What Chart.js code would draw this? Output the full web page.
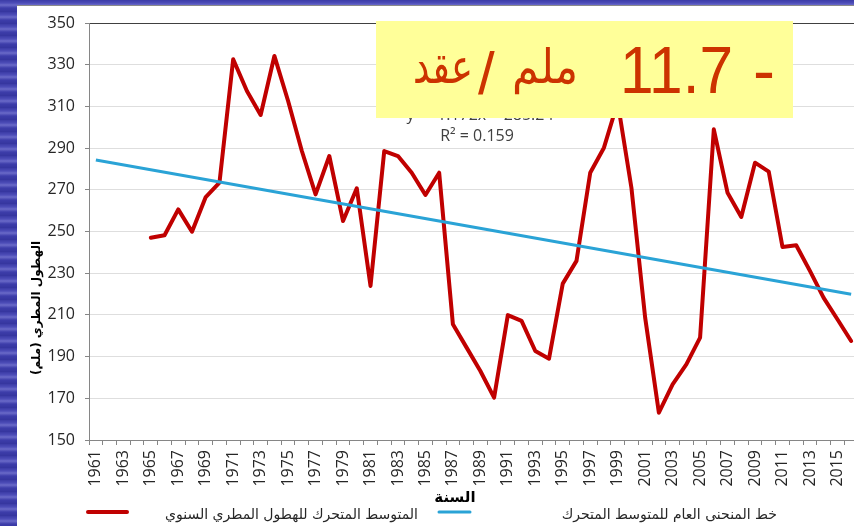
<!DOCTYPE html>
<html>
<head>
<meta charset="utf-8">
<script src="https://cdn.jsdelivr.net/npm/chart.js@4.4.1/dist/chart.umd.min.js"></script>
<style>
  html, body {
    margin: 0;
    padding: 0;
    width: 854px;
    height: 526px;
    overflow: hidden;
    background: repeating-linear-gradient(180deg, #3b3ba6 0px, #4d4db8 3px, #6a6ac8 5px, #3d3daa 8px, #35359e 12px);
  }
  #panel {
    position: absolute;
    left: 17px;
    top: 5px;
    width: 845px;
    height: 521px;
    background: #ffffff;
    border-top: 1px solid #8a8a8a;
    box-sizing: border-box;
  }
  #rainChart {
    position: absolute;
    left: 0;
    top: 0;
  }
</style>
</head>
<body>
<div id="panel">
  <canvas id="rainChart" width="845" height="521"></canvas>
</div>
<script>
// Years on the category axis
const years = [];
for (let y = 1961; y <= 2016; y++) years.push(String(y));

// Moving average of annual rainfall (mm), 1961-2016; no values before 1965
const rainfall = [
  null, null, null, null,
  247.0, 248.2, 260.6, 249.9, 266.5, 273.4, 332.6, 317.4, 305.9, 334.2,
  312.6, 288.6, 267.8, 286.2, 255.0, 270.7, 223.9, 288.6, 286.2, 278.2,
  267.5, 278.2, 205.5, 194.3, 183.1, 170.3, 209.9, 207.1, 192.7, 189.0,
  225.0, 235.9, 278.2, 290.2, 312.0, 271.0, 208.7, 163.1, 176.7, 186.3,
  199.1, 299.0, 268.6, 257.0, 283.0, 278.7, 242.6, 243.4, 231.1, 218.2,
  207.9, 197.5
];

// Linear trend: only the two end values, joined with spanGaps
const trend = years.map(() => null);
trend[0] = 284.3;
trend[trend.length - 1] = 219.9;

const yTicks = [150, 170, 190, 210, 230, 250, 270, 290, 310, 330, 350];

const seriesNames = [
  'المتوسط المتحرك للهطول المطري السنوي',
  'خط المنحنى العام للمتوسط المتحرك'
];
const axisTitleY = 'الهطول المطري (ملم)';
const axisTitleX = 'السنة';
const trendEquation = 'y = -1.172x + 285.24';
const trendR2 = 'R² = 0.159';

const RED = '#c00000';
const BLUE = '#2aa3d6';
const TICK_FONT = { family: '"Open Sans"', size: 16 };

// Text, legend and the yellow note drawn on top of the chart
const overlayPlugin = {
  id: 'overlay',
  afterDraw(chart) {
    const ctx = chart.ctx;
    ctx.save();

    // trend line equation (partly under the note box)
    ctx.fillStyle = '#404040';
    ctx.font = '16px "Open Sans"';
    ctx.textAlign = 'center';
    ctx.textBaseline = 'alphabetic';
    ctx.fillText(trendEquation, 463, 114);
    ctx.fillText(trendR2, 460, 135);

    // yellow note: decline per decade
    ctx.fillStyle = '#ffff99';
    ctx.fillRect(359, 15, 417, 97);
    ctx.fillStyle = '#cc3300';
    ctx.textAlign = 'left';
    ctx.font = '66px "Liberation Sans"';
    ctx.fillText('-', 736, 87);
    ctx.fillText('11.7', 603, 87, 113);
    ctx.font = '60px "Liberation Sans"';
    ctx.fillText('/', 461, 88);
    ctx.font = '48px "DejaVu Sans"';
    ctx.fillText('ملم', 495, 77, 66);
    ctx.fillText('عقد', 396, 77, 60);

    // y axis title
    ctx.fillStyle = '#000000';
    ctx.font = 'bold 12px "DejaVu Sans"';
    ctx.direction = 'rtl';
    ctx.textAlign = 'center';
    ctx.textBaseline = 'middle';
    ctx.save();
    ctx.translate(20, 302);
    ctx.rotate(-Math.PI / 2);
    ctx.fillText(axisTitleY, 0, 0);
    ctx.restore();

    // x axis title
    ctx.font = 'bold 15px "DejaVu Sans"';
    ctx.fillText(axisTitleX, 438, 492);

    // legend
    const ly = 506;
    ctx.lineCap = 'round';
    ctx.strokeStyle = RED;
    ctx.lineWidth = 4;
    ctx.beginPath();
    ctx.moveTo(71, ly);
    ctx.lineTo(110, ly);
    ctx.stroke();
    ctx.strokeStyle = BLUE;
    ctx.lineWidth = 3;
    ctx.beginPath();
    ctx.moveTo(422, ly);
    ctx.lineTo(453, ly);
    ctx.stroke();

    ctx.fillStyle = '#262626';
    ctx.font = '14px "DejaVu Sans"';
    ctx.textAlign = 'right';
    ctx.fillText(seriesNames[0], 401, ly + 3);
    ctx.fillText(seriesNames[1], 760, ly + 3);

    ctx.restore();
  }
};

const ctx = document.getElementById('rainChart').getContext('2d');
new Chart(ctx, {
  type: 'line',
  data: {
    labels: years,
    datasets: [
      {
        label: seriesNames[1],
        data: trend,
        borderColor: BLUE,
        borderWidth: 3,
        pointRadius: 0,
        spanGaps: true,
        tension: 0,
        order: 0
      },
      {
        label: seriesNames[0],
        data: rainfall,
        borderColor: RED,
        borderWidth: 4,
        pointRadius: 0,
        tension: 0,
        borderJoinStyle: 'round',
        borderCapStyle: 'round',
        order: 1
      }
    ]
  },
  options: {
    responsive: false,
    animation: false,
    layout: {
      padding: { top: 17, right: 4, left: 0, bottom: 0 }
    },
    plugins: {
      legend: { display: false },
      tooltip: { enabled: false }
    },
    scales: {
      x: {
        offset: true,
        grid: {
          offset: true,
          drawOnChartArea: false,
          drawTicks: true,
          tickLength: 5,
          tickColor: '#868686'
        },
        border: { color: '#868686', width: 1 },
        ticks: {
          autoSkip: false,
          maxRotation: 90,
          minRotation: 90,
          padding: 5,
          color: '#262626',
          font: TICK_FONT,
          callback: function (value, index) {
            return index % 2 === 0 ? years[index] : '';
          }
        },
        afterFit(scale) {
          scale.height = 87;
          scale.paddingLeft = 0;
          scale.paddingRight = 0;
        }
      },
      y: {
        min: 150,
        max: 350,
        afterBuildTicks(scale) {
          scale.ticks = yTicks.map(v => ({ value: v }));
        },
        grid: {
          color: c => (c.tick && c.tick.value === 350 ? '#404040' : '#dedede'),
          tickColor: '#868686',
          tickLength: 4
        },
        border: { color: '#868686', width: 1 },
        ticks: {
          padding: 10,
          color: '#262626',
          font: TICK_FONT
        },
        afterFit(scale) {
          scale.width = 72;
          scale.paddingTop = 0;
          scale.paddingBottom = 0;
        }
      }
    }
  },
  plugins: [overlayPlugin]
});
</script>
</body>
</html>
